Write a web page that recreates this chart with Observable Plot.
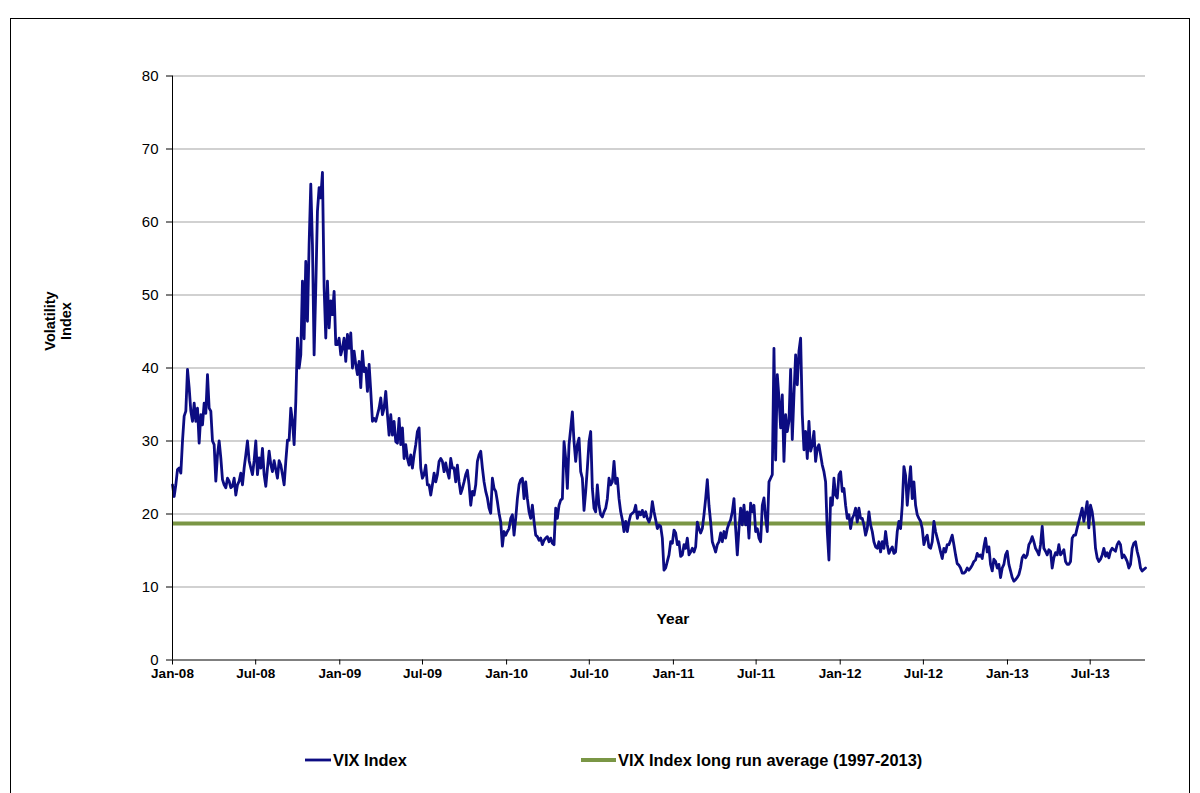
<!DOCTYPE html>
<html>
<head>
<meta charset="utf-8">
<script src="https://cdn.jsdelivr.net/npm/d3@7"></script>
<script src="https://cdn.jsdelivr.net/npm/@observablehq/plot@0.6"></script>
<style>
  html, body { margin: 0; padding: 0; background: #fff; }
  #chart { position: relative; width: 1200px; height: 793px; overflow: hidden; }
</style>
</head>
<body>
<div id="chart"></div>
<script>
// VIX Index readings, evenly spaced in time from Jan 2008 to end Oct 2013
const vixPart1 = [24.0,22.4,24.0,26.1,26.3,25.6,30.0,33.4,34.1,39.8,37.3,34.1,32.7,35.2,32.7,34.5,29.7,33.6,32.2,35.2,33.8,39.1,34.5,34.1,30.0,29.5,24.5,28.1,30.0,27.7,24.7,24.0,23.6,24.9,24.5,23.6,23.8,24.9,22.6,24.0,24.5,25.6,24.0,26.3,28.1,30.0,27.3,26.3,25.4,27.3,30.0,25.4,27.7,26.3,29.0,25.4,23.8,26.3,28.6,26.8,25.8,27.3,26.1,24.9,27.3];
const vixPart2 = [26.7,25.4,24.0,27.2,30.1,30.1,34.5,32.7,29.5,35.4,44.1,40.0,41.8,51.9,44.0,54.6,46.4,56.9,65.2,56.9,41.8,51.0,61.5,64.7,63.3,66.8,51.0,44.1,51.9,45.5,49.2,47.3,50.5,43.2,43.2,44.1,41.8,42.7,44.1,40.9,44.6,42.7,44.8,40.0,42.3,40.5,39.1,40.9,37.3,42.3,39.5,40.0,36.8,40.5,36.8,32.7,33.1,32.7,33.6,34.5,35.9,33.6,34.5,36.8,33.6,30.8];
const vixPart3 = [33.6,30.8,32.7,29.9,29.7,33.1,29.5,31.8,27.6,29.5,27.6,26.7,28.1,26.3,28.1,29.5,31.3,31.8,26.3,24.9,25.4,26.7,24.0,24.0,22.6,24.0,25.6,24.4,25.4,27.2,27.6,27.2,25.8,27.0,25.8,24.9,27.6,26.3,26.3,24.4,26.7,24.4,22.8,23.5,24.4,25.4,26.0,24.0,21.2,23.1,22.6,24.0,27.2,28.1,28.6,26.3,24.4,23.1,22.2,20.8,20.1,24.9,23.5,23.1,21.7,20.1,18.9,15.6,17.6,17.1,17.6,18.0];
const vixPart4 = [19.4,19.9,17.1,19.4,22.1,24.0,24.7,24.9,22.1,24.4,22.1,20.3,19.4,21.2,19.0,17.1,16.9,16.4,16.7,15.8,16.4,16.7,16.9,16.2,16.7,16.0,15.8,20.8,19.4,21.2,21.9,22.1,29.9,27.6,23.5,29.5,31.7,34.0,29.9,27.2,29.5,30.4,25.8,24.9,20.5,23.1,26.3,29.9,31.3,23.5,20.8,20.3,24.0,21.2,19.9,19.6,20.3,20.8,22.1,24.9,24.0,24.4,27.2,24.2,24.9,22.1,20.3,19.2,17.6,19.0,17.6,19.0];
const vixPart5 = [19.9,20.1,20.3,21.2,19.4,20.3,19.9,20.5,19.6,20.3,19.4,18.9,19.6,21.7,20.3,19.2,18.0,18.5,18.3,16.7,12.3,12.6,13.5,14.4,16.2,16.0,17.8,17.4,15.8,16.2,14.2,14.4,15.8,15.3,16.7,14.4,14.8,15.3,14.8,15.5,18.9,18.0,17.4,18.0,19.9,22.1,24.7,21.2,18.9,16.2,15.5,14.8,15.8,16.2,17.4,16.2,17.6,16.7,18.0,18.7,19.2,20.3,22.1,18.0,14.4,18.0,20.8,18.5,21.2,18.5,20.3,16.7];
const vixPart6 = [21.5,20.3,21.2,17.6,18.0,16.7,16.2,21.2,22.2,19.4,17.6,24.4,24.9,25.4,42.7,27.4,39.1,35.9,31.8,36.3,27.2,33.6,31.3,32.7,39.8,30.2,36.3,41.8,37.7,42.3,44.1,33.6,28.8,31.3,27.6,32.7,28.6,29.5,31.3,27.2,29.0,29.5,28.1,26.7,25.8,24.4,17.6,13.7,22.2,21.2,24.9,22.6,22.2,25.4,25.8,23.1,23.5,21.2,19.4,19.9,18.0,19.4,19.9,20.8,18.9,20.8,19.4,19.4,18.5,17.1,18.0,20.3];
const vixPart7 = [18.5,17.6,16.2,15.5,15.3,16.2,14.8,16.2,15.3,17.6,15.8,14.6,15.1,15.5,14.6,14.8,17.6,19.0,18.0,21.2,26.5,25.3,21.2,24.0,26.5,22.1,24.4,21.2,19.9,19.4,19.0,18.0,15.8,16.7,17.1,15.5,15.3,16.2,19.0,17.6,16.7,15.8,14.8,13.9,15.3,14.8,15.8,15.8,16.4,17.1,15.8,14.4,13.2,13.0,12.6,11.9,11.9,12.1,12.6,12.3,12.6,13.0,13.5,13.7,14.6,14.2,14.4,13.9,15.5,16.7,14.8,15.5];
const vixPart8 = [13.1,12.2,13.8,13.5,12.6,13.1,11.3,12.6,13.1,14.4,14.9,13.1,12.2,11.3,10.8,11.0,11.3,11.7,12.6,14.0,14.4,14.0,14.4,15.8,16.2,16.9,16.2,15.3,14.9,14.4,15.8,18.3,15.3,14.9,14.4,15.1,14.9,12.6,14.0,14.7,14.4,15.8,14.4,14.7,15.1,13.5,13.1,13.1,13.5,16.7,17.1,17.1,18.1,19.0,19.9,20.8,19.0,20.3,21.7,18.1,21.2,20.3,18.5,15.3,14.0,13.5,13.8,14.4,15.3,14.2,14.7,14.0,14.9,15.3,15.1,14.9,15.8,16.2,15.8,14.0,14.4,14.0,13.5,12.6,13.1,15.3,16.0,16.2,14.9,14.0,12.6,12.2,12.4,12.6];

const longRunAverage = 18.7;
const firstDay = "2008-01-01";
const lastDay = "2013-10-30";
const xTickLabels = ["Jan-08","Jul-08","Jan-09","Jul-09","Jan-10","Jul-10","Jan-11","Jul-11","Jan-12","Jul-12","Jan-13","Jul-13"];
const yTicks = [0,10,20,30,40,50,60,70,80];
const seriesNames = ["VIX Index", "VIX Index long run average (1997-2013)"];
const yTitle = ["Volatility", "Index"];
const xTitle = "Year";

const vixValues = [...vixPart1, ...vixPart2, ...vixPart3, ...vixPart4, ...vixPart5, ...vixPart6, ...vixPart7, ...vixPart8];
const t0 = new Date(firstDay + "T00:00:00Z");
const t1 = new Date(lastDay + "T00:00:00Z");
const n = vixValues.length;
const data = vixValues.map((v, i) => ({date: new Date(+t0 + i * (t1 - t0) / (n - 1)), vix: v}));
const parseTick = d3.utcParse("%b-%y");
const xTickDates = xTickLabels.map(parseTick);

const blue = "#0c0c82";
const green = "#7a9645";

const chart = Plot.plot({
  width: 1200,
  height: 793,
  marginLeft: 172,
  marginRight: 55,
  marginTop: 75.5,
  marginBottom: 133.5,
  style: {fontFamily: "'Liberation Sans', Arial, sans-serif", background: "#fff", color: "#000", overflow: "visible"},
  x: {type: "utc", domain: [t0, t1]},
  y: {domain: [0, 80]},
  marks: [
    Plot.ruleY(yTicks.filter(d => d > 0), {stroke: "#a3a3a3", strokeWidth: 1}),
    Plot.ruleY([longRunAverage], {stroke: green, strokeWidth: 4}),
    Plot.line(data, {x: "date", y: "vix", stroke: blue, strokeWidth: 2.8, strokeLinejoin: "round"}),
    Plot.ruleY([0], {stroke: "#000", strokeWidth: 1}),
    Plot.ruleX([t0], {y1: 0, y2: 80, stroke: "#000", strokeWidth: 1}),
    Plot.axisY(yTicks, {tickSize: 6, tickPadding: 8, fontSize: 15, label: null, stroke: "#000", fill: "#000"}),
    Plot.axisX(xTickDates, {tickSize: 5, tickPadding: 3, fontSize: 13.5, fontWeight: "bold", label: null,
      tickFormat: d => xTickLabels[xTickDates.findIndex(t => +t === +d)], stroke: "#000", fill: "#000"})
  ]
});

const svg = d3.select(chart);
// chart area frame
svg.append("rect")
  .attr("x", 10.5).attr("y", 18.5).attr("width", 1179).attr("height", 800)
  .attr("fill", "none").attr("stroke", "#000").attr("stroke-width", 1);

// y-axis title (two lines, rotated)
const yt = svg.append("text")
  .attr("transform", "translate(55,321) rotate(-90)")
  .attr("text-anchor", "middle")
  .attr("font-weight", "bold").attr("font-size", 14.5).attr("fill", "#000");
yt.append("tspan").attr("x", 0).attr("y", 0).text(yTitle[0]);
yt.append("tspan").attr("x", 0).attr("y", 16).text(yTitle[1]);

// x-axis title inside plot
svg.append("text").attr("x", 673).attr("y", 623.5)
  .attr("text-anchor", "middle").attr("font-weight", "bold").attr("font-size", 15.5).attr("fill", "#000")
  .text(xTitle);

// legend
const legend = [
  {name: seriesNames[0], color: blue, width: 2.8, x1: 305, x2: 331},
  {name: seriesNames[1], color: green, width: 4, x1: 581, x2: 616}
];
for (const item of legend) {
  svg.append("line").attr("x1", item.x1).attr("x2", item.x2).attr("y1", 760).attr("y2", 760)
    .attr("stroke", item.color).attr("stroke-width", item.width);
  svg.append("text").attr("x", item.x2 + 2).attr("y", 766)
    .attr("text-anchor", "start")
    .attr("font-weight", "bold").attr("font-size", 16.4).attr("fill", "#000")
    .text(item.name);
}

document.getElementById("chart").appendChild(chart);
</script>
</body>
</html>
